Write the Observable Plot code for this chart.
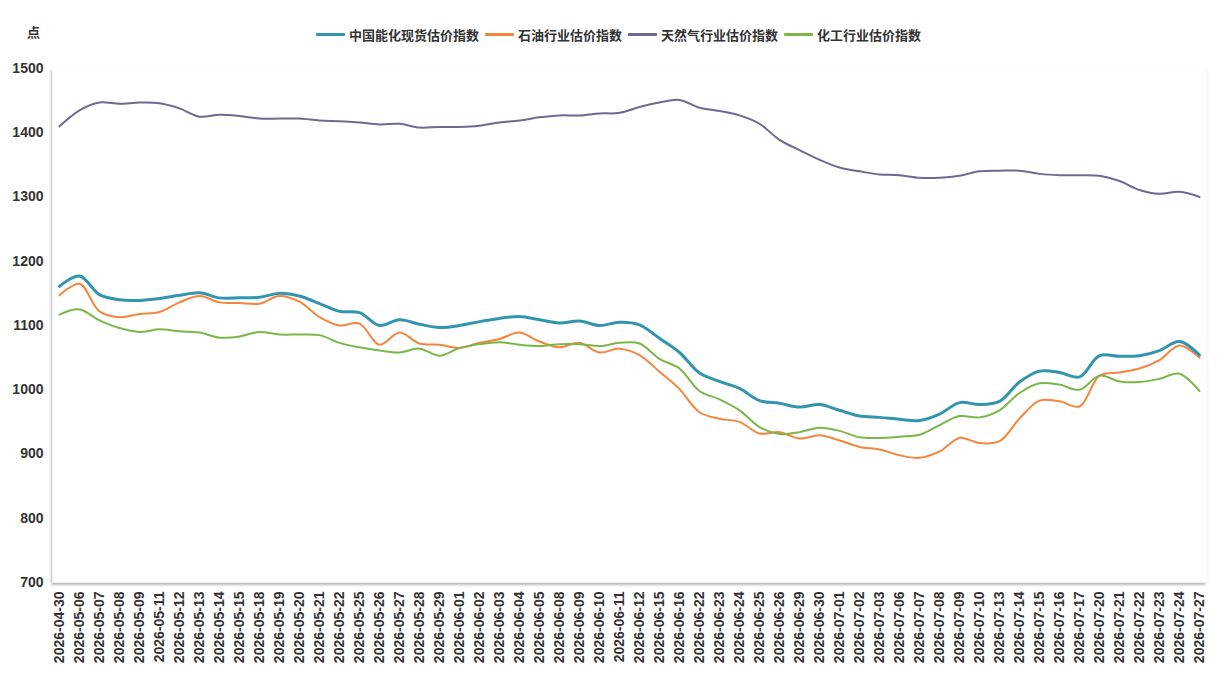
<!DOCTYPE html>
<html>
<head>
<meta charset="utf-8">
<script src="https://cdn.jsdelivr.net/npm/d3@7"></script>
<script src="https://cdn.jsdelivr.net/npm/@observablehq/plot@0.6"></script>
<style>
  html, body { margin: 0; padding: 0; background: #fff; }
  #wrap { position: relative; width: 1223px; height: 690px; }
  #unit { position: absolute; left: 27px; top: 22px; font: bold 13px "Noto Sans CJK SC", sans-serif; color: #333; }
  #legend { position: absolute; left: 316px; top: 25px; display: flex; align-items: center; font: bold 13px "Noto Sans CJK SC", sans-serif; color: #333; }
  #legend .item { display: flex; align-items: center; margin-right: 6px; }
  #legend .sw { width: 29px; height: 3px; margin-right: 4px; border-radius: 1px; }
</style>
</head>
<body>
<div id="wrap">
  <div id="chart"></div>
  <div id="unit">点</div>
  <div id="legend"></div>
</div>
<script>
const dates = ["2026-04-30","2026-05-06","2026-05-07","2026-05-08","2026-05-09","2026-05-11","2026-05-12","2026-05-13","2026-05-14","2026-05-15","2026-05-18","2026-05-19","2026-05-20","2026-05-21","2026-05-22","2026-05-25","2026-05-26","2026-05-27","2026-05-28","2026-05-29",
"2026-06-01","2026-06-02","2026-06-03","2026-06-04","2026-06-05","2026-06-08","2026-06-09","2026-06-10","2026-06-11","2026-06-12","2026-06-15","2026-06-16","2026-06-22","2026-06-23","2026-06-24","2026-06-25","2026-06-26","2026-06-29","2026-06-30",
"2026-07-01","2026-07-02","2026-07-03","2026-07-06","2026-07-07","2026-07-08","2026-07-09","2026-07-10","2026-07-13","2026-07-14","2026-07-15","2026-07-16","2026-07-17","2026-07-20","2026-07-21","2026-07-22","2026-07-23","2026-07-24","2026-07-27"];

const seriesNames = ["中国能化现货估价指数","石油行业估价指数","天然气行业估价指数","化工行业估价指数"];
const seriesColors = ["#3195b0","#f5843d","#6b6a93","#7bb649"];

const energyChem = [1161,1177,1148,1140,1139,1142,1147,1151,1143,1143,1144,1150,1146,1134,1122,1120,1100,1109,1102,1097,
1100,1106,1111,1114,1109,1104,1107,1100,1105,1101,1080,1058,1026,1013,1002,983,979,973,977,
968,959,957,954,952,962,980,977,982,1012,1029,1027,1020,1053,1052,1053,1061,1075,1054];

const oil = [1147,1165,1122,1113,1118,1121,1136,1146,1136,1135,1134,1146,1137,1113,1100,1103,1070,1089,1072,1070,
1065,1073,1079,1089,1075,1066,1073,1058,1064,1054,1028,1001,965,955,950,932,934,924,929,
921,911,907,898,894,904,925,917,920,955,983,982,974,1022,1027,1033,1046,1069,1050];

const gas = [1410,1435,1447,1445,1447,1446,1438,1425,1428,1426,1422,1422,1422,1419,1418,1416,1413,1414,1408,1409,
1409,1411,1416,1419,1424,1427,1427,1430,1431,1440,1447,1451,1439,1434,1427,1414,1389,1373,1358,
1346,1340,1335,1334,1330,1330,1333,1340,1341,1341,1336,1334,1334,1333,1325,1311,1305,1308,1300];

const chem = [1117,1125,1108,1096,1090,1094,1091,1089,1081,1083,1090,1086,1086,1085,1073,1066,1061,1058,1064,1053,
1065,1071,1074,1070,1068,1071,1071,1068,1073,1072,1048,1033,998,985,968,942,931,934,941,
936,926,925,927,930,945,959,957,968,995,1010,1008,1000,1022,1013,1012,1017,1025,998];

const yTicks = [700,800,900,1000,1100,1200,1300,1400,1500];

const seriesValues = [energyChem, oil, gas, chem];
const strokeWidths = [3, 2, 2, 2];
const rows = seriesValues.map((vals, s) => vals.map((v, i) => ({date: dates[i], value: v, series: seriesNames[s]})));

const lineMarks = [2, 1, 3, 0].map(s => Plot.line(rows[s], {
  x: "date", y: "value", stroke: seriesColors[s], strokeWidth: strokeWidths[s], curve: "catmull-rom"
}));

const chart = Plot.plot({
  width: 1223,
  height: 690,
  marginTop: 68,
  marginBottom: 108,
  marginLeft: 52,
  marginRight: 17,
  style: {fontFamily: "'Liberation Sans', Arial, sans-serif", color: "#333", background: "#fff"},
  x: {type: "point", domain: dates, padding: 0},
  y: {domain: [700, 1500]},
  marks: [
    Plot.frame({fill: "white", stroke: null}),
    Plot.axisY({ticks: yTicks, tickFormat: d => String(d), tickSize: 0, tickPadding: 9, fontSize: 14, fontWeight: "bold", label: null}),
    Plot.axisX({tickSize: 0, tickRotate: -90, tickPadding: 9, fontSize: 14, fontWeight: "bold", label: null}),
    ...lineMarks
  ]
});

// shadowed plot-area box
const svg = d3.select(chart);
const defs = svg.insert("defs", ":first-child");
const f = defs.append("filter").attr("id", "shadow").attr("x", "-5%").attr("y", "-5%").attr("width", "110%").attr("height", "110%");
f.append("feDropShadow").attr("dx", -1).attr("dy", 2).attr("stdDeviation", 1.6).attr("flood-color", "#000").attr("flood-opacity", 0.35);
svg.select("[aria-label=frame]").attr("filter", "url(#shadow)");

document.getElementById("chart").appendChild(chart);

const legend = document.getElementById("legend");
seriesNames.forEach((name, s) => {
  const item = document.createElement("div");
  item.className = "item";
  const sw = document.createElement("div");
  sw.className = "sw";
  sw.style.background = seriesColors[s];
  const t = document.createElement("span");
  t.textContent = name;
  item.appendChild(sw);
  item.appendChild(t);
  legend.appendChild(item);
});
</script>
</body>
</html>
